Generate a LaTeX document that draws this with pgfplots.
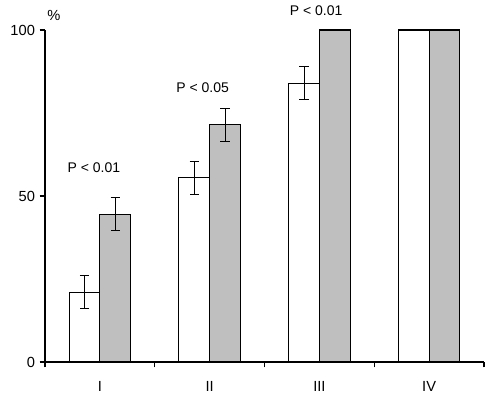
\documentclass[border=0pt]{standalone}
\usepackage{pgfplots}
\pgfplotsset{compat=1.18}
\usepackage{fontspec}
\setmainfont{Liberation Sans}
\begin{document}
\begin{tikzpicture}
\begin{axis}[
  scale only axis,
  width=329.25pt, height=249pt,
  xmin=0.5, xmax=4.5, ymin=0, ymax=100,
  axis x line=bottom, axis y line=left,
  axis line style={-, line width=0.8pt},
  xtick={0.5,1.5,2.5,3.5,4.5},
  xticklabels={},
  extra x ticks={1,2,3,4},
  extra x tick labels={I,II,III,IV},
  extra x tick style={major tick length=0pt, tick label style={yshift=-11pt}},
  ytick={0,50,100},
  tick align=outside,
  major tick length=4pt,
  tick style={black, line width=0.8pt},
  /pgf/number format/assume math mode=true,
  tick label style={font=\fontsize{11}{13}\selectfont},
  clip=false,
  ybar, bar width=0.28,
  error bars/error bar style={line width=0.6pt, black},
  error bars/error mark options={rotate=90, mark size=3.5pt, line width=0.6pt, black},
]
\addplot[ybar, bar shift=-0.14, fill=white, draw=black, line width=0.9pt]
  coordinates {(1,21) (2,55.5) (3,84) (4,100)};
\addplot[ybar, bar shift=0.14, fill=gray!50, draw=black, line width=0.9pt]
  coordinates {(1,44.5) (2,71.5) (3,100) (4,100)};
\addplot[ybar, bar shift=-0.14, draw=none, fill=none, forget plot,
  error bars/.cd, y dir=both, y explicit]
  coordinates {(1,21) +- (0,5) (2,55.5) +- (0,5) (3,84) +- (0,5)};
\addplot[ybar, bar shift=0.14, draw=none, fill=none, forget plot,
  error bars/.cd, y dir=both, y explicit]
  coordinates {(1,44.5) +- (0,5) (2,71.5) +- (0,5)};
\node[font=\fontsize{10.5}{12}\selectfont] at (axis cs:0.945,58.6) {P < 0.01};
\node[font=\fontsize{10.5}{12}\selectfont] at (axis cs:1.936,82.5) {P < 0.05};
\node[font=\fontsize{10.5}{12}\selectfont] at (axis cs:2.97,105.7) {P < 0.01};
\node[font=\fontsize{11}{13}\selectfont] at (axis cs:0.58,104.5) {\%};
\end{axis}
\pgfresetboundingbox
\path (current axis.south west) ++(-33.75pt,-27.75pt) coordinate (bbA);
\path (current axis.north east) ++(6pt,22.5pt) coordinate (bbB);
\path[use as bounding box] (bbA) rectangle (bbB);
\end{tikzpicture}
\end{document}
